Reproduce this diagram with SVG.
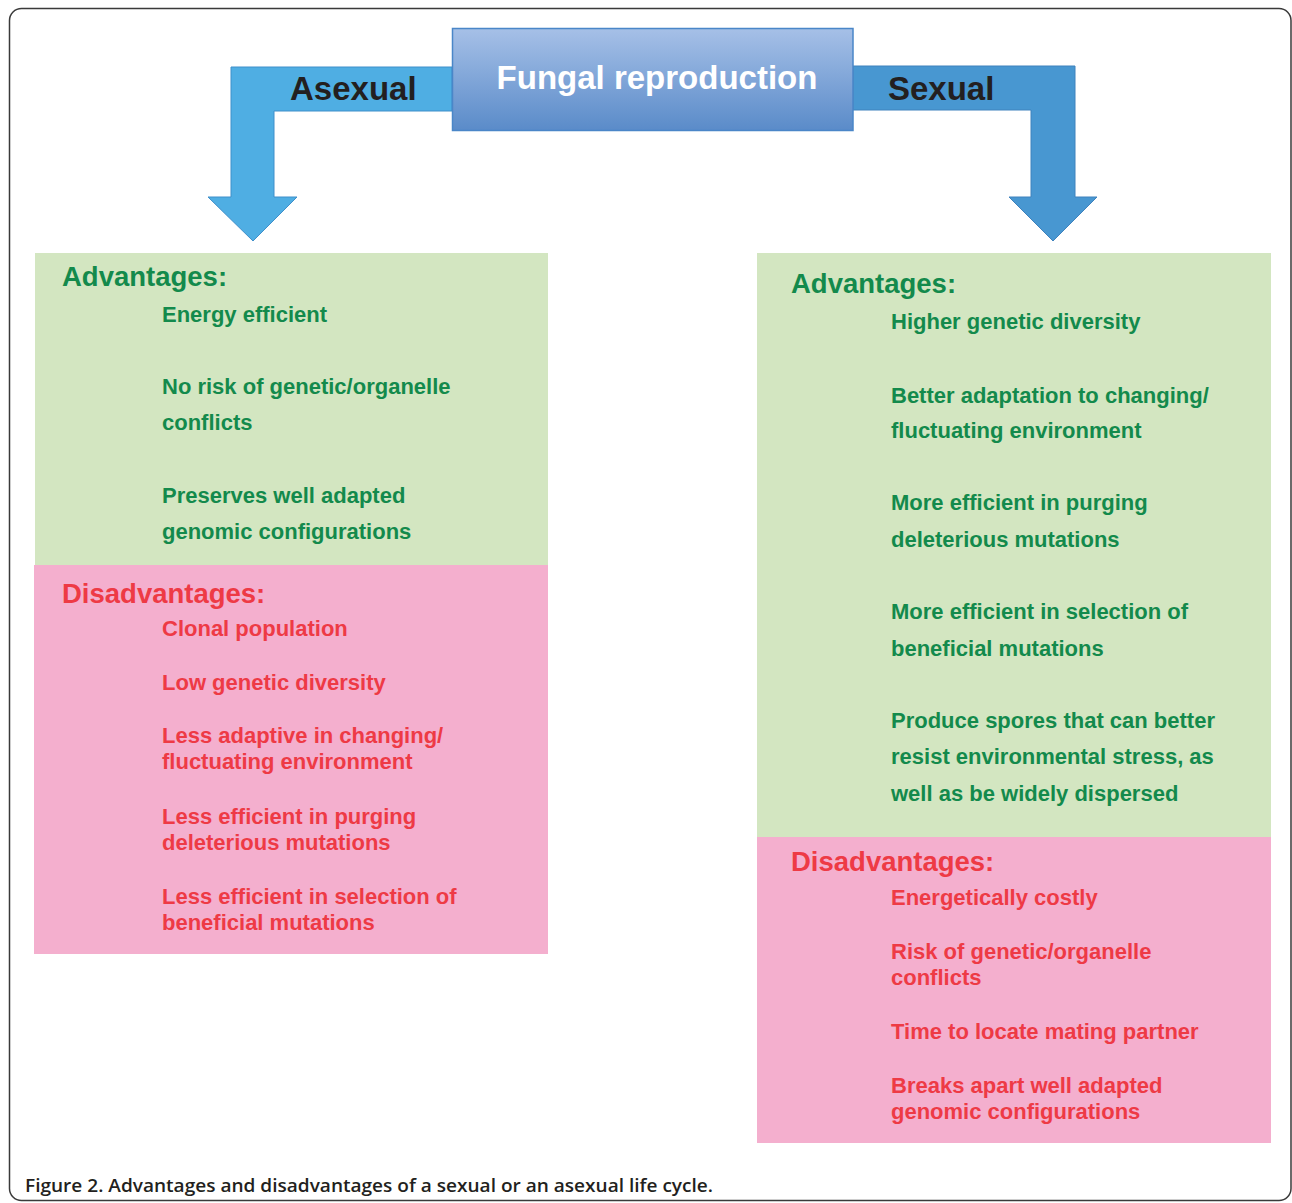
<svg xmlns="http://www.w3.org/2000/svg" width="1292" height="1203" viewBox="0 0 1292 1203">
<defs>
<linearGradient id="titleGrad" x1="0" y1="0" x2="0" y2="1">
<stop offset="0" stop-color="#a6c0e7"/>
<stop offset="1" stop-color="#5a8bc9"/>
</linearGradient>
</defs>
<style>
.hdr{font-family:"Liberation Sans",Arial,sans-serif;font-weight:bold;font-size:27.5px}
.item{font-family:"Liberation Sans",Arial,sans-serif;font-weight:bold;font-size:22px}
.g{fill:#138a4c}
.r{fill:#ee3a45}
.adv{fill:#d3e6c1}
.dis{fill:#f4afce}
.lbl{font-family:"Liberation Sans",Arial,sans-serif;font-weight:bold;font-size:33px;fill:#231f20}
</style>
<rect x="0" y="0" width="1292" height="1203" fill="#ffffff"/>
<rect id="frame" x="9.5" y="8.5" width="1281.5" height="1192" rx="12" fill="none" stroke="#3a3a3a" stroke-width="1.5"/>
<g id="connectors">
<polygon points="452,67 231,67 231,197 208,197 253,241 297,197 274,197 274,111 452,111" fill="#4faee3" stroke="#3f8fca" stroke-width="1"/>
<polygon points="853,66 1075,66 1075,197 1097,197 1053,241 1009,197 1031,197 1031,110 853,110" fill="#4897d1" stroke="#3e82bd" stroke-width="1"/>
<text class="lbl" x="290" y="100">Asexual</text>
<text class="lbl" x="888" y="100">Sexual</text>
</g>
<g id="title">
<rect x="452.5" y="28.5" width="400.5" height="102" fill="url(#titleGrad)" stroke="#4a86c8" stroke-width="1.5"/>
<text x="657" y="89" text-anchor="middle" font-family="Liberation Sans, Arial, sans-serif" font-weight="bold" font-size="33" fill="#ffffff">Fungal reproduction</text>
</g>
<g id="asexual-advantages">
<rect class="adv" x="35" y="253" width="513" height="312"/>
<text class="hdr g" x="62" y="286">Advantages:</text>
<text class="item g" x="162" y="322">Energy efficient</text>
<text class="item g" x="162" y="394">No risk of genetic/organelle</text>
<text class="item g" x="162" y="430">conflicts</text>
<text class="item g" x="162" y="503">Preserves well adapted</text>
<text class="item g" x="162" y="539">genomic configurations</text>
</g>
<g id="asexual-disadvantages">
<rect class="dis" x="34" y="565" width="514" height="389"/>
<text class="hdr r" x="62" y="603">Disadvantages:</text>
<text class="item r" x="162" y="636">Clonal population</text>
<text class="item r" x="162" y="690">Low genetic diversity</text>
<text class="item r" x="162" y="743">Less adaptive in changing/</text>
<text class="item r" x="162" y="769">fluctuating environment</text>
<text class="item r" x="162" y="824">Less efficient in purging</text>
<text class="item r" x="162" y="850">deleterious mutations</text>
<text class="item r" x="162" y="904">Less efficient in selection of</text>
<text class="item r" x="162" y="930">beneficial mutations</text>
</g>
<g id="sexual-advantages">
<rect class="adv" x="757" y="253" width="514" height="584"/>
<text class="hdr g" x="791" y="293">Advantages:</text>
<text class="item g" x="891" y="329">Higher genetic diversity</text>
<text class="item g" x="891" y="403">Better adaptation to changing/</text>
<text class="item g" x="891" y="438">fluctuating environment</text>
<text class="item g" x="891" y="510">More efficient in purging</text>
<text class="item g" x="891" y="547">deleterious mutations</text>
<text class="item g" x="891" y="619">More efficient in selection of</text>
<text class="item g" x="891" y="656">beneficial mutations</text>
<text class="item g" x="891" y="728">Produce spores that can better</text>
<text class="item g" x="891" y="764">resist environmental stress, as</text>
<text class="item g" x="891" y="801">well as be widely dispersed</text>
</g>
<g id="sexual-disadvantages">
<rect class="dis" x="757" y="837" width="514" height="306"/>
<text class="hdr r" x="791" y="871">Disadvantages:</text>
<text class="item r" x="891" y="905">Energetically costly</text>
<text class="item r" x="891" y="959">Risk of genetic/organelle</text>
<text class="item r" x="891" y="985">conflicts</text>
<text class="item r" x="891" y="1039">Time to locate mating partner</text>
<text class="item r" x="891" y="1093">Breaks apart well adapted</text>
<text class="item r" x="891" y="1119">genomic configurations</text>
</g>
<text id="caption" x="25" y="1192" font-family="Open Sans, Liberation Sans, sans-serif" font-weight="600" font-size="18" fill="#231f20" textLength="688" lengthAdjust="spacingAndGlyphs">Figure 2. Advantages and disadvantages of a sexual or an asexual life cycle.</text>
</svg>
